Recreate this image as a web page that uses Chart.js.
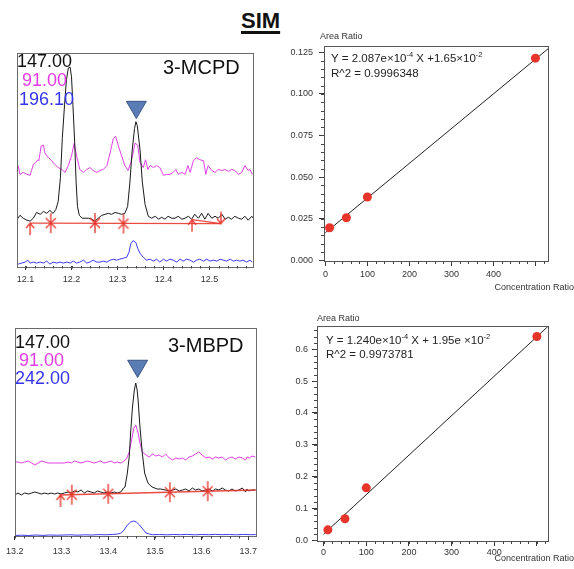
<!DOCTYPE html>
<html>
<head>
<meta charset="utf-8">
<script src="https://cdn.jsdelivr.net/npm/chart.js@4.4.1/dist/chart.umd.min.js"></script>
<style>
  body { margin: 0; background: #fff; }
  #page { position: relative; width: 574px; height: 569px; overflow: hidden; background: #fff; }
  #page canvas { position: absolute; }
  #title {
    position: absolute; left: 241px; top: 8px;
    font: bold 22px "Liberation Sans", Arial, sans-serif; color: #111;
    text-decoration: underline; text-decoration-thickness: 2.5px; text-underline-offset: 3px;
  }
</style>
</head>
<body>
<div id="page">
  <div id="title">SIM</div>
  <canvas id="mcpdChrom"></canvas>
  <canvas id="mcpdCal"></canvas>
  <canvas id="mbpdChrom"></canvas>
  <canvas id="mbpdCal"></canvas>
</div>
<script>
const FONT = '"Liberation Sans", Arial, sans-serif';

// ---------- 3-MCPD, SIM traces (retention time in min, relative height) ----------
const mcpdT147 = [12.082,12.088,12.095,12.103,12.110,12.117,12.124,12.132,12.139,12.146,12.153,12.160,12.166,12.171,12.176,12.180,12.185,12.189,12.193,12.197,12.200,12.203,12.207,12.210,12.213,12.217,12.223,12.229,12.237,12.244,12.251,12.258,12.266,12.273,12.280,12.287,12.295,12.302,12.309,12.316,12.322,12.327,12.332,12.337,12.340,12.343,12.349,12.354,12.360,12.367,12.374,12.382,12.389,12.396,12.403,12.410,12.418,12.425,12.432,12.440,12.447,12.454,12.461,12.468,12.476,12.483,12.490,12.497,12.505,12.512,12.519,12.527,12.534,12.541,12.548,12.555,12.563,12.570,12.577,12.584,12.592,12.595];
const mcpdI147 = [48,52,49,47,46,49,55,53,56,54,57,54,58,66,91,131,166,191,203,204,194,166,126,86,61,52,49,49,49,48,46,49,52,53,54,53,55,54,53,54,61,86,119,141,148,144,119,86,63,51,49,51,48,50,48,51,49,49,51,48,49,51,48,53,49,54,48,54,49,51,49,53,48,50,48,51,49,48,51,47,51,49];

const mcpdT91 = [12.084,12.088,12.095,12.103,12.110,12.113,12.117,12.122,12.127,12.129,12.134,12.139,12.142,12.150,12.157,12.164,12.171,12.179,12.186,12.193,12.200,12.206,12.211,12.218,12.226,12.233,12.240,12.247,12.255,12.262,12.269,12.277,12.284,12.291,12.296,12.302,12.309,12.316,12.323,12.329,12.334,12.338,12.344,12.349,12.356,12.361,12.366,12.371,12.378,12.385,12.392,12.400,12.407,12.414,12.421,12.427,12.432,12.440,12.447,12.453,12.458,12.465,12.472,12.479,12.487,12.492,12.497,12.505,12.512,12.519,12.527,12.534,12.541,12.548,12.555,12.563,12.570,12.577,12.584,12.588,12.593];
const mcpdI91 = [103,94,96,94,93,98,104,106,109,108,123,124,116,111,108,104,101,99,96,103,113,126,113,99,96,99,101,98,96,98,99,103,116,131,133,123,113,103,98,106,116,126,124,106,101,109,99,103,101,103,101,93,94,94,96,99,94,96,94,103,96,108,111,109,108,94,103,98,96,99,98,99,97,99,98,94,96,103,98,99,94];

const mcpdT196 = [12.084,12.092,12.099,12.105,12.110,12.117,12.124,12.132,12.139,12.146,12.153,12.160,12.168,12.175,12.182,12.190,12.197,12.204,12.211,12.218,12.226,12.233,12.240,12.247,12.255,12.262,12.269,12.277,12.284,12.291,12.298,12.305,12.313,12.320,12.325,12.329,12.334,12.340,12.344,12.349,12.356,12.363,12.371,12.378,12.385,12.392,12.400,12.407,12.414,12.421,12.429,12.436,12.443,12.450,12.458,12.465,12.472,12.479,12.487,12.494,12.501,12.508,12.516,12.523,12.530,12.537,12.545,12.552,12.559,12.566,12.573,12.581,12.588,12.593];
const mcpdI196 = [2,3,4,6,3,4,3,4,3,5,2,4,3,4,3,4,3,5,3,4,6,3,4,6,4,4,5,4,6,7,6,7,8,9,14,23,26,24,18,13,9,6,7,5,7,4,7,5,7,6,4,7,5,7,6,4,6,7,5,7,5,6,5,7,6,5,7,5,6,5,6,4,6,4];

// integration baseline and its markers
const mcpdBaseT = [12.110, 12.525];
const mcpdBaseH = [44, 43.5];
const mcpdDropT = [12.462, 12.525];
const mcpdDropH = [47.5, 43.5];
const mcpdStarT = [12.155, 12.251, 12.313];
const mcpdStarH = [44, 44, 43.5];
const mcpdUpT = [12.110, 12.462];
const mcpdUpH = [44, 47.5];
const mcpdDownT = [12.525];
const mcpdDownH = [43.5];
const mcpdApexT = [12.341];
const mcpdApexH = [163];

// ---------- 3-MBPD, SIM traces ----------
const mbpdT147 = [13.200,13.207,13.214,13.221,13.229,13.236,13.243,13.250,13.257,13.264,13.271,13.278,13.285,13.292,13.299,13.306,13.314,13.321,13.328,13.335,13.342,13.349,13.356,13.363,13.370,13.377,13.384,13.391,13.399,13.406,13.413,13.420,13.427,13.433,13.436,13.441,13.445,13.448,13.452,13.456,13.459,13.462,13.464,13.468,13.473,13.478,13.485,13.494,13.505,13.512,13.523,13.531,13.538,13.545,13.552,13.559,13.566,13.573,13.580,13.587,13.594,13.601,13.609,13.616,13.623,13.630,13.637,13.644,13.651,13.658,13.665,13.672,13.680,13.687,13.694,13.697,13.701,13.708,13.715];
const mbpdI147 = [41,43,41,43,42,43,44,43,42,43,42,43,42,43,42,43,44,43,45,44,46,43,45,44,43,45,44,43,44,43,44,43,44,48,49,63,79,103,129,146,153,146,136,109,83,63,53,49,47,47,46,45,46,47,45,46,47,45,48,46,47,45,46,47,45,47,46,48,46,45,47,45,46,48,44,47,45,46,46];

const mbpdT91 = [13.200,13.207,13.214,13.221,13.229,13.236,13.243,13.250,13.257,13.264,13.271,13.278,13.285,13.292,13.299,13.306,13.314,13.321,13.328,13.335,13.342,13.349,13.356,13.363,13.370,13.377,13.384,13.391,13.399,13.406,13.413,13.420,13.427,13.434,13.440,13.445,13.450,13.455,13.459,13.464,13.468,13.473,13.481,13.488,13.495,13.502,13.509,13.516,13.523,13.531,13.538,13.545,13.552,13.559,13.566,13.573,13.580,13.587,13.594,13.601,13.609,13.616,13.623,13.630,13.637,13.644,13.651,13.658,13.665,13.672,13.680,13.687,13.694,13.697,13.702,13.708,13.715];
const mbpdI91 = [74,74,73,74,75,73,71,73,75,74,73,73,73,73,73,73,74,73,75,74,73,74,75,74,73,74,75,73,74,75,73,74,73,75,78,84,96,108,111,103,93,84,81,79,82,80,81,79,82,78,76,78,77,78,76,79,80,82,84,81,78,79,77,79,78,79,76,78,79,77,79,78,76,79,78,80,79];

const mbpdT242 = [13.200,13.215,13.230,13.245,13.260,13.275,13.290,13.305,13.320,13.335,13.350,13.365,13.380,13.395,13.410,13.420,13.427,13.434,13.441,13.448,13.455,13.460,13.467,13.474,13.481,13.488,13.495,13.510,13.525,13.540,13.555,13.570,13.585,13.600,13.615,13.630,13.645,13.660,13.675,13.690,13.705,13.716];
const mbpdI242 = [0.5,0.8,0.5,1,0.6,1,0.8,1,1.2,0.8,1.2,1,1.4,1.2,1.6,2,2.7,6,11,14,15,14,11,7,3,2,1.3,1.5,1.2,1.5,1.3,1.6,1.2,1.5,1.3,1.6,1.3,1.5,1.2,1.6,1.3,1.4];

const mbpdBaseT = [13.296, 13.716];
const mbpdBaseH = [41, 46];
const mbpdStarT = [13.322, 13.400, 13.532, 13.613];
const mbpdStarH = [41.3, 42.2, 43.8, 44.8];
const mbpdUpT = [13.298];
const mbpdUpH = [41];
const mbpdApexT = [13.463];
const mbpdApexH = [170];

// ---------- calibration curves ----------
const mcpdConc = [10, 50, 100, 500];
const mcpdRatio = [0.0195, 0.0255, 0.038, 0.1215];
const mcpdFit = { slope: 2.087e-4, icept: 1.65e-2 };

const mbpdConc = [10, 50, 100, 500];
const mbpdRatio = [0.033, 0.068, 0.165, 0.640];
const mbpdFit = { slope: 1.240e-3, icept: 1.95e-2 };

// ---------- helpers ----------
function pairs(xs, ys) { return xs.map((x, i) => ({ x, y: ys[i] })); }

function trace(xs, ys, color, width) {
  return { data: pairs(xs, ys), showLine: true, borderColor: color, borderWidth: width || 1, pointRadius: 0, tension: 0 };
}

function markerCanvas(kind) {
  const c = document.createElement('canvas');
  c.width = 12; c.height = 26;
  const g = c.getContext('2d');
  g.strokeStyle = 'rgba(232,52,42,0.95)';
  g.lineWidth = 1.4;
  const cx = 6, cy = 13;
  g.beginPath();
  if (kind === 'star') {
    g.moveTo(cx, cy - 10); g.lineTo(cx, cy + 10);
    g.moveTo(cx - 5, cy - 5); g.lineTo(cx + 5, cy + 5);
    g.moveTo(cx - 5, cy + 5); g.lineTo(cx + 5, cy - 5);
  } else if (kind === 'up') {
    g.moveTo(cx, cy); g.lineTo(cx, cy + 12);
    g.moveTo(cx - 4, cy + 5); g.lineTo(cx, cy); g.lineTo(cx + 4, cy + 5);
  } else {
    g.moveTo(cx, cy); g.lineTo(cx, cy - 12);
    g.moveTo(cx - 4, cy - 5); g.lineTo(cx, cy); g.lineTo(cx + 4, cy - 5);
  }
  g.stroke();
  return c;
}
const starImg = markerCanvas('star');
const upImg = markerCanvas('up');
const downImg = markerCanvas('down');

function markers(xs, ys, img) {
  return { data: pairs(xs, ys), showLine: false, pointStyle: img, pointRadius: 5, pointHoverRadius: 5 };
}

function apex(xs, ys) {
  return {
    data: pairs(xs, ys), showLine: false, pointStyle: 'triangle', pointRotation: 180,
    pointRadius: 11.5, pointHoverRadius: 11.5,
    pointBackgroundColor: '#5b7db6', pointBorderColor: '#3b5684', pointBorderWidth: 1
  };
}

// frame around the plot area
const frame = {
  id: 'frame',
  afterDraw(chart, args, opts) {
    const a = chart.chartArea, ctx = chart.ctx;
    ctx.save();
    ctx.strokeStyle = opts.color || '#666';
    ctx.lineWidth = 1;
    ctx.strokeRect(Math.round(a.left) + 0.5, Math.round(a.top) + 0.5, Math.round(a.right - a.left), Math.round(a.bottom - a.top));
    ctx.restore();
  }
};

// short unlabelled ticks between the major ones
const minorTicks = {
  id: 'minorTicks',
  afterDraw(chart, args, opts) {
    const a = chart.chartArea, ctx = chart.ctx;
    ctx.save();
    ctx.strokeStyle = '#444';
    ctx.lineWidth = 1;
    for (const [id, step] of Object.entries(opts.steps || {})) {
      const s = chart.scales[id];
      const first = Math.ceil(s.min / step - 1e-6), last = Math.floor(s.max / step + 1e-6);
      for (let k = first; k <= last; k++) {
        const p = Math.round(s.getPixelForValue(k * step)) + 0.5;
        ctx.beginPath();
        if (s.isHorizontal()) { ctx.moveTo(p, a.bottom); ctx.lineTo(p, a.bottom + opts.len); }
        else { ctx.moveTo(a.left, p); ctx.lineTo(a.left - opts.len, p); }
        ctx.stroke();
      }
    }
    ctx.restore();
  }
};

// free text: ion labels, compound names, equations, axis titles
const panelText = {
  id: 'panelText',
  afterDraw(chart, args, opts) {
    const ctx = chart.ctx;
    for (const t of opts.items || []) {
      ctx.save();
      ctx.fillStyle = t.color || '#111';
      ctx.textAlign = t.align || 'left';
      ctx.textBaseline = 'alphabetic';
      const x = t.x - opts.left, y = t.y - opts.top;
      if (t.parts) {
        let cx = x;
        for (const [txt, sup] of t.parts) {
          ctx.font = sup ? t.supFont : t.font;
          ctx.fillText(txt, cx, sup ? y - 5 : y);
          cx += ctx.measureText(txt).width;
        }
      } else {
        ctx.font = t.font;
        ctx.fillText(t.text, x, y);
      }
      ctx.restore();
    }
  }
};

function tickFont() { return { size: 9, family: FONT }; }

function buildPanel(id, box, plot, datasets, x, y, extra) {
  const cv = document.getElementById(id);
  cv.width = box.w; cv.height = box.h;
  cv.style.left = box.left + 'px';
  cv.style.top = box.top + 'px';
  x.afterFit = s => { s.height = box.top + box.h - plot.b; };
  if (y.display !== false) y.afterFit = s => { s.width = plot.l - box.left; };
  return new Chart(cv, {
    type: 'scatter',
    data: { datasets },
    options: {
      responsive: false,
      animation: false,
      events: [],
      layout: {
        padding: {
          top: plot.t - box.top,
          right: box.left + box.w - plot.r,
          left: y.display === false ? plot.l - box.left : 0,
          bottom: 0
        }
      },
      scales: { x, y },
      plugins: {
        legend: { display: false },
        tooltip: { enabled: false },
        frame: { color: extra.frameColor },
        minorTicks: extra.minor,
        panelText: { left: box.left, top: box.top, items: extra.texts }
      }
    },
    plugins: [frame, minorTicks, panelText]
  });
}

function xAxis(min, max, step, fmt, pad, tickLen) {
  return {
    type: 'linear', min, max,
    grid: { drawOnChartArea: false, color: '#333', tickLength: tickLen },
    border: { display: false },
    ticks: { stepSize: step, includeBounds: false, autoSkip: false, maxRotation: 0, padding: pad, color: '#333', font: tickFont(), callback: fmt }
  };
}

function yAxis(min, max, step, fmt, pad) {
  return {
    type: 'linear', min, max,
    grid: { drawOnChartArea: false, color: '#333', tickLength: 5 },
    border: { display: false },
    ticks: { stepSize: step, includeBounds: false, autoSkip: false, padding: pad, color: '#333', font: tickFont(), callback: fmt }
  };
}

const RED = 'rgba(232,56,46,0.9)';
const BLACK = '#1a1a1a';
const MAGENTA = '#e040e6';
const BLUE = '#3c3cf0';
const big = s => s + 'px ' + FONT;

// ---------- 3-MCPD chromatogram ----------
buildPanel('mcpdChrom',
  { left: 0, top: 40, w: 290, h: 250 },
  { l: 17, t: 47, r: 253, b: 266 },
  [
    apex(mcpdApexT, mcpdApexH),
    markers(mcpdStarT, mcpdStarH, starImg),
    markers(mcpdUpT, mcpdUpH, upImg),
    markers(mcpdDownT, mcpdDownH, downImg),
    trace(mcpdBaseT, mcpdBaseH, RED, 1.3),
    trace(mcpdDropT, mcpdDropH, RED, 1.3),
    trace(mcpdT147, mcpdI147, BLACK),
    trace(mcpdT91, mcpdI91, MAGENTA),
    trace(mcpdT196, mcpdI196, BLUE)
  ],
  xAxis(12.0815, 12.5946, 0.1, v => v.toFixed(1), 4, 4),
  { display: false, min: 0, max: 219 },
  {
    frameColor: '#6a6a6a',
    minor: { steps: { x: 0.02 }, len: 2.5 },
    texts: [
      { text: '147.00', x: 17, y: 67, font: big(18), color: '#111' },
      { text: '91.00', x: 22, y: 86, font: big(18), color: '#e23de2' },
      { text: '196.10', x: 19, y: 105, font: big(18), color: '#3535ea' },
      { text: '3-MCPD', x: 163, y: 74, font: big(20), color: '#111' }
    ]
  });

// ---------- 3-MBPD chromatogram ----------
buildPanel('mbpdChrom',
  { left: 0, top: 312, w: 290, h: 257 },
  { l: 13, t: 328, r: 256, b: 536 },
  [
    apex(mbpdApexT, mbpdApexH),
    markers(mbpdStarT, mbpdStarH, starImg),
    markers(mbpdUpT, mbpdUpH, upImg),
    trace(mbpdBaseT, mbpdBaseH, RED, 1.3),
    trace(mbpdT147, mbpdI147, BLACK),
    trace(mbpdT91, mbpdI91, MAGENTA),
    trace(mbpdT242, mbpdI242, BLUE)
  ],
  xAxis(13.2, 13.7164, 0.1, v => v.toFixed(1), 6, 4),
  { display: false, min: 0, max: 208 },
  {
    frameColor: '#6a6a6a',
    minor: { steps: { x: 0.02 }, len: 2.5 },
    texts: [
      { text: '147.00', x: 15, y: 348, font: big(18), color: '#111' },
      { text: '91.00', x: 19, y: 366, font: big(18), color: '#e23de2' },
      { text: '242.00', x: 15, y: 384, font: big(18), color: '#3535ea' },
      { text: '3-MBPD', x: 168, y: 352, font: big(20), color: '#111' }
    ]
  });

// ---------- calibration curves ----------
function calSets(conc, ratio, fit, xMax) {
  const fitX = [0, xMax];
  const fitY = fitX.map(v => fit.slope * v + fit.icept);
  return [
    { data: pairs(conc, ratio), showLine: false, pointRadius: 4.5, pointHoverRadius: 4.5, pointBackgroundColor: '#e8352b', pointBorderColor: '#e8352b', pointBorderWidth: 0 },
    trace(fitX, fitY, '#222', 1)
  ];
}
const concFmt = v => (v <= 400 ? String(v) : '');

buildPanel('mcpdCal',
  { left: 290, top: 26, w: 284, h: 270 },
  { l: 324, t: 46, r: 548, b: 261 },
  calSets(mcpdConc, mcpdRatio, mcpdFit, 530),
  xAxis(-3.3, 530, 100, concFmt, 3, 5),
  yAxis(-0.0005, 0.1288, 0.025, v => v.toFixed(3), 6),
  {
    frameColor: '#555',
    minor: { steps: { x: 20, y: 0.005 }, len: 3 },
    texts: [
      { text: 'Area Ratio', x: 320, y: 39, font: big(9), color: '#333' },
      { text: 'Concentration Ratio', x: 574, y: 290, font: big(9), color: '#333', align: 'right' },
      { parts: [['Y = 2.087e\u00d710'], ['-4', true], [' X +1.65\u00d710'], ['-2', true]], x: 331, y: 62, font: big(11.5), supFont: big(7.5), color: '#222' },
      { text: 'R^2 = 0.9996348', x: 331, y: 77, font: big(11.5), color: '#222' }
    ]
  });

buildPanel('mbpdCal',
  { left: 290, top: 308, w: 284, h: 261 },
  { l: 317, t: 326, r: 548, b: 541 },
  calSets(mbpdConc, mbpdRatio, mbpdFit, 526),
  xAxis(-15.5, 526, 100, concFmt, 1, 5),
  yAxis(-0.002, 0.673, 0.1, v => v.toFixed(1), 4),
  {
    frameColor: '#555',
    minor: { steps: { x: 20, y: 0.02 }, len: 3 },
    texts: [
      { text: 'Area Ratio', x: 317, y: 321, font: big(9), color: '#333' },
      { text: 'Concentration Ratio', x: 574, y: 561, font: big(9), color: '#333', align: 'right' },
      { parts: [['Y = 1.240e\u00d710'], ['-4', true], [' X + 1.95e \u00d710'], ['-2', true]], x: 326, y: 344, font: big(11.5), supFont: big(7.5), color: '#222' },
      { text: 'R^2 = 0.9973781', x: 326, y: 358, font: big(11.5), color: '#222' }
    ]
  });
</script>
</body>
</html>
